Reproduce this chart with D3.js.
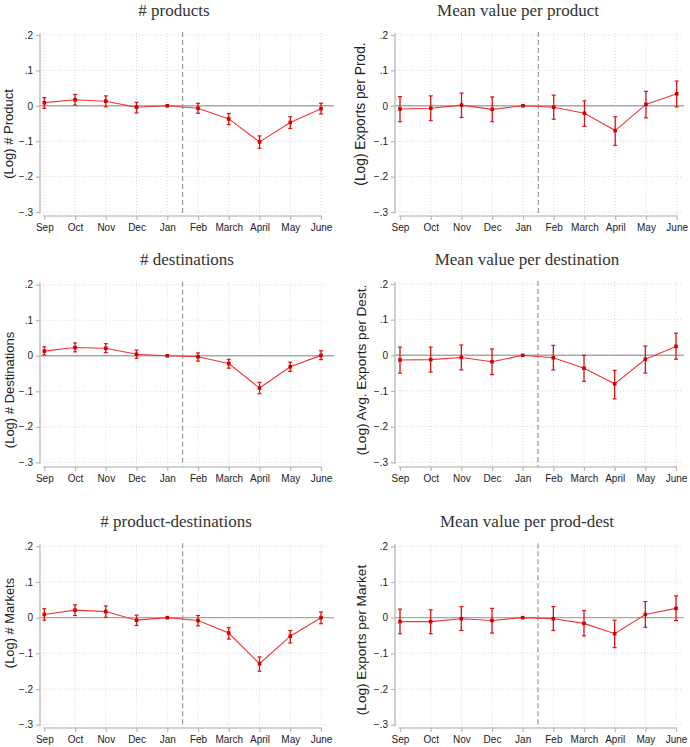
<!DOCTYPE html>
<html><head><meta charset="utf-8">
<script src="https://cdn.jsdelivr.net/npm/d3@7"></script>
<style>body{margin:0;background:#fff}svg{display:block}</style>
</head><body>
<script>
// ---- data ----
const months = ["Sep","Oct","Nov","Dec","Jan","Feb","March","April","May","June"];
const yTicks = [0.2, 0.1, 0, -0.1, -0.2, -0.3];
const yTickLabels = [".2", ".1", "0", "\u2212.1", "\u2212.2", "\u2212.3"];
const panelTitles = ["# products","Mean value per product","# destinations","Mean value per destination","# product-destinations","Mean value per prod-dest"];
const yTitles = ["(Log) # Product","(Log) Exports per Prod.","(Log) # Destinations","(Log) Avg. Exports per Dest.","(Log) # Markets","(Log) Exports per Market"];

const productsEst = [0.009, 0.017, 0.013, -0.004, 0, -0.007, -0.037, -0.102, -0.047, -0.008];
const productsHi  = [0.023, 0.032, 0.028, 0.010, 0, 0.007, -0.022, -0.085, -0.031, 0.007];
const productsLo  = [-0.007, 0.002, -0.003, -0.020, 0, -0.021, -0.053, -0.120, -0.064, -0.023];

const valProdEst = [-0.009, -0.007, 0.002, -0.010, 0, -0.004, -0.021, -0.070, 0.004, 0.034];
const valProdHi  = [0.026, 0.028, 0.036, 0.025, 0, 0.030, 0.014, -0.031, 0.041, 0.070];
const valProdLo  = [-0.045, -0.042, -0.033, -0.045, 0, -0.038, -0.058, -0.112, -0.034, -0.003];

const destEst = [0.013, 0.023, 0.021, 0.004, 0, -0.003, -0.022, -0.091, -0.031, 0.001];
const destHi  = [0.025, 0.036, 0.034, 0.016, 0, 0.008, -0.010, -0.075, -0.018, 0.014];
const destLo  = [0.002, 0.011, 0.009, -0.007, 0, -0.015, -0.035, -0.107, -0.044, -0.011];

const valDestEst = [-0.013, -0.012, -0.006, -0.018, 0, -0.007, -0.036, -0.080, -0.011, 0.025];
const valDestHi  = [0.023, 0.023, 0.029, 0.018, 0, 0.028, 0.000, -0.042, 0.026, 0.062];
const valDestLo  = [-0.050, -0.047, -0.041, -0.054, 0, -0.041, -0.073, -0.122, -0.050, -0.011];

const marketsEst = [0.009, 0.021, 0.017, -0.007, 0, -0.008, -0.043, -0.129, -0.052, 0.000];
const marketsHi  = [0.025, 0.036, 0.033, 0.007, 0, 0.006, -0.028, -0.110, -0.036, 0.016];
const marketsLo  = [-0.007, 0.006, 0.001, -0.022, 0, -0.023, -0.060, -0.150, -0.071, -0.017];

const valMktEst = [-0.011, -0.011, -0.003, -0.008, 0, -0.003, -0.016, -0.045, 0.009, 0.026];
const valMktHi  = [0.024, 0.022, 0.031, 0.026, 0, 0.031, 0.020, -0.007, 0.045, 0.061];
const valMktLo  = [-0.045, -0.045, -0.036, -0.043, 0, -0.036, -0.051, -0.084, -0.027, -0.008];

const seriesEst = [productsEst, valProdEst, destEst, valDestEst, marketsEst, valMktEst];
const seriesHi  = [productsHi, valProdHi, destHi, valDestHi, marketsHi, valMktHi];
const seriesLo  = [productsLo, valProdLo, destLo, valDestLo, marketsLo, valMktLo];

// ---- layout (pixels) ----
const layout = [
  {ax:40,  x1:44.3, x2:321, yT:35,    yB:212,   axY:216, tX:174, tY:16,  ytX:8,   ytY:134, ytS:13},
  {ax:395, x1:400,  x2:676.7, yT:35,  yB:212,   axY:216, tX:518, tY:16,  ytX:360.5, ytY:114, ytS:13.8},
  {ax:40,  x1:44.3, x2:321, yT:284.7, yB:462.3, axY:467, tX:187, tY:265, ytX:9,   ytY:390, ytS:13},
  {ax:395, x1:400,  x2:676, yT:284,   yB:462.3, axY:467, tX:527, tY:265, ytX:361, ytY:370, ytS:13.6},
  {ax:40,  x1:44.3, x2:321, yT:546.3, yB:724.7, axY:728, tX:176, tY:527, ytX:9,   ytY:623, ytS:12.9},
  {ax:395, x1:400,  x2:676, yT:546.3, yB:724.7, axY:728, tX:527, tY:527, ytX:361, ytY:640, ytS:13.6}
];

const W = 690, H = 747;
const svg = d3.select("body").append("svg").attr("width", W).attr("height", H);
const sans = "'Liberation Sans', Arial, sans-serif";
const serif = "'Liberation Serif', 'DejaVu Serif', serif";

layout.forEach((L, p) => {
  const g = svg.append("g");
  const x = d3.scalePoint().domain(months).range([L.x1, L.x2]);
  const y = d3.scaleLinear().domain([-0.3, 0.2]).range([L.yB, L.yT]);
  const gridR = L.x2 + 5;
  const zeroR = Math.min(L.x2 + 13, W - 6);

  // horizontal grid
  g.selectAll(".hg").data(yTicks.filter(v => v !== 0)).join("line")
    .attr("x1", L.ax).attr("x2", gridR)
    .attr("y1", d => y(d)).attr("y2", d => y(d))
    .attr("stroke", "#d4d4d4").attr("stroke-width", 0.9).attr("stroke-dasharray", "1,2");
  // vertical grid
  g.selectAll(".vg").data(months).join("line")
    .attr("x1", d => x(d)).attr("x2", d => x(d))
    .attr("y1", y(0.2) - 2).attr("y2", L.axY)
    .attr("stroke", "#d8d8d8").attr("stroke-width", 0.9).attr("stroke-dasharray", "1,2");

  // zero line
  g.append("line").attr("x1", L.ax).attr("x2", zeroR).attr("y1", y(0)).attr("y2", y(0))
    .attr("stroke", "#a8a8a8").attr("stroke-width", 1.4);

  // dashed event line between Jan and Feb
  const xe = (x("Jan") + x("Feb")) / 2;
  g.append("line").attr("x1", xe).attr("x2", xe).attr("y1", y(0.2) - 3).attr("y2", L.axY)
    .attr("stroke", "#9a9a9a").attr("stroke-width", 1.2).attr("stroke-dasharray", "5,3");

  // y axis
  const yAxis = d3.axisLeft(y).tickValues(yTicks).tickSize(4).tickPadding(3)
    .tickFormat((d, i) => yTickLabels[i]);
  const ya = g.append("g").attr("transform", `translate(${L.ax},0)`).call(yAxis);
  ya.select(".domain").attr("stroke", "#c4c4c4").attr("stroke-width", 1.6)
    .attr("d", `M0,${y(0.2) - 2}V${y(-0.3) + 1.5}`);
  ya.selectAll(".tick line").attr("stroke", "#b8b8b8").attr("stroke-width", 1.2);
  ya.selectAll(".tick text").attr("font-family", sans).attr("font-size", 10).attr("fill", "#222");

  // x axis
  const xAxis = d3.axisBottom(x).tickSize(4).tickPadding(4);
  const xa = g.append("g").attr("transform", `translate(0,${L.axY})`).call(xAxis);
  xa.select(".domain").attr("stroke", "#c4c4c4").attr("stroke-width", 1.6)
    .attr("d", `M${L.x1 - 1},0H${L.x2 + 1}`);
  xa.selectAll(".tick line").attr("stroke", "#b8b8b8").attr("stroke-width", 1.2);
  xa.selectAll(".tick text").attr("font-family", sans).attr("font-size", 10).attr("fill", "#222");

  // title
  g.append("text").attr("x", L.tX).attr("y", L.tY).attr("text-anchor", "middle")
    .attr("font-family", serif).attr("font-size", 17).attr("fill", "#333")
    .text(panelTitles[p]);

  // y title
  g.append("text").attr("transform", `translate(${L.ytX + 4.5},${L.ytY}) rotate(-90)`)
    .attr("text-anchor", "middle").attr("font-family", sans).attr("font-size", L.ytS).attr("fill", "#222")
    .text(yTitles[p]);

  // series
  const est = seriesEst[p], hi = seriesHi[p], lo = seriesLo[p];
  const pts = months.map((m, i) => ({m, v: est[i], h: hi[i], l: lo[i]}));
  const line = d3.line().x(d => x(d.m)).y(d => y(d.v));
  g.append("path").datum(pts).attr("d", line).attr("fill", "none")
    .attr("stroke", "#f03434").attr("stroke-width", 1.1);

  const bars = pts.filter(d => d.h !== d.l);
  g.selectAll(".eb").data(bars).join("line")
    .attr("x1", d => x(d.m)).attr("x2", d => x(d.m))
    .attr("y1", d => y(d.h)).attr("y2", d => y(d.l))
    .attr("stroke", "#e01010").attr("stroke-width", 1.3);
  ["h", "l"].forEach(k => {
    g.selectAll(".cap" + k).data(bars).join("line")
      .attr("x1", d => x(d.m) - 2).attr("x2", d => x(d.m) + 2)
      .attr("y1", d => y(d[k])).attr("y2", d => y(d[k]))
      .attr("stroke", "#e01010").attr("stroke-width", 1.2);
  });
  g.selectAll(".mk").data(pts).join("rect")
    .attr("x", d => x(d.m) - 1.8).attr("y", d => y(d.v) - 1.8)
    .attr("width", 3.6).attr("height", 3.6).attr("fill", "#d00000");
});
</script>
</body></html>
